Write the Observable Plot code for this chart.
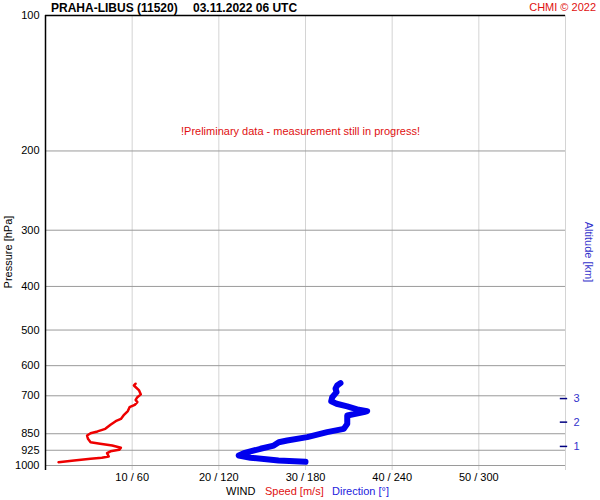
<!DOCTYPE html>
<html><head><meta charset="utf-8">
<script src="https://cdn.jsdelivr.net/npm/d3@7"></script>
<script src="https://cdn.jsdelivr.net/npm/@observablehq/plot@0.6"></script>
<style>body{margin:0;background:#fff}</style>
</head><body><div id="chart"></div>
<script>
const pressureTicks = [100,200,300,400,500,600,700,850,925,1000];
const speedTicks = [10,20,30,40,50];
const speedPressure = [658,664,681,695,705,715,723,733,742,757,774,788,797,812,829,840,848,858,872,888,895,903,913,923,930,939,955,961,966,975,983];
const speedValues = [10.4,10.2,10.8,11.0,10.6,10.4,10.6,10.3,9.7,9.5,9.0,8.7,8.1,7.5,6.9,6.0,5.2,4.8,4.9,5.2,6.3,7.7,8.7,8.5,7.5,7.1,7.3,6.5,5.2,3.3,1.5];
const dirPressure = [656,664,675,687,705,720,729,739,752,757,761,774,808,829,843,865,880,888,903,918,939,950,961,975,981];
const dirValues = [204.2,201.9,200.8,201.5,198.5,197.8,201.5,208.9,216.9,222.7,220.4,208.9,208.9,206.5,195,181.2,167.3,161.5,158,148.8,137.3,133.8,141.9,161.3,180];
const altKm = [1,2,3];
const altPressure = [907,801,710];
const prelimText = "!Preliminary data - measurement still in progress!";

const speedData = speedValues.map((v,i)=>({v, p: speedPressure[i]}));
const dirData = dirValues.map((d,i)=>({s: d/6, p: dirPressure[i]}));
const altData = altKm.map((k,i)=>({k, p: altPressure[i]}));

const chart = Plot.plot({
  width: 600, height: 500,
  marginLeft: 45, marginRight: 35, marginTop: 15, marginBottom: 35,
  style: {fontFamily: "'Liberation Sans', Arial, sans-serif", fontSize: "11px", background: "#fff", color: "#000"},
  x: {domain: [0,60], axis: null},
  y: {type: "log", domain: [100,1000], reverse: true, axis: null},
  marks: [
    Plot.ruleX(speedTicks.concat([60]), {stroke: "#d4d4d4", strokeOpacity: 1, insetBottom: -5}),
    Plot.ruleY(pressureTicks.slice(1), {stroke: "#9a9a9a", strokeOpacity: 1}),
    Plot.ruleY([100], {stroke: "#000", strokeWidth: 1.5}),
    Plot.ruleX([0], {stroke: "#000", strokeWidth: 1.5, insetBottom: -5}),
    Plot.axisY({ticks: pressureTicks, tickFormat: d => String(d), tickSize: 0, tickPadding: 6, fontSize: 11, label: null}),
    Plot.axisX({ticks: speedTicks, tickFormat: d => `${d} / ${d*6}`, tickSize: 0, tickPadding: 8, fontSize: 11, label: null}),
    Plot.ruleY(altData, {y: "p", x1: 59.4, x2: 60.25, stroke: "#000080", strokeWidth: 1.5}),
    Plot.text(altData, {y: "p", x: 60, text: d => String(d.k), dx: 8, textAnchor: "start", fill: "#3333cc", fontSize: 11}),
    Plot.text([prelimText], {frameAnchor: "top", dy: 112, dx: -5, fill: "#e01010", fontSize: 11}),
    Plot.line(speedData, {x: "v", y: "p", stroke: "#ee0000", strokeWidth: 2.5, strokeLinejoin: "round", strokeLinecap: "round"}),
    Plot.line(dirData, {x: "s", y: "p", stroke: "#0000ee", strokeWidth: 6, strokeLinejoin: "round", strokeLinecap: "round"})
  ]
});
document.getElementById("chart").append(chart);

const svg = d3.select(chart);
function addText(x, y, str, opts) {
  const t = svg.append("text").attr("x", x).attr("y", y).attr("text-anchor", opts.anchor || "start")
    .attr("font-size", opts.size || 11).attr("fill", opts.fill || "#000").text(str);
  if (opts.bold) t.attr("font-weight", "bold");
  if (opts.transform) t.attr("transform", opts.transform).attr("x", 0).attr("y", 0);
  return t;
}
addText(51, 11.5, "PRAHA-LIBUS (11520)", {bold: true, size: 12});
addText(193, 11.5, "03.11.2022 06 UTC", {bold: true, size: 12});
addText(596, 11, "CHMI © 2022", {anchor: "end", fill: "#e01010"});
addText(0, 0, "Pressure [hPa]", {anchor: "middle", transform: "translate(12,252) rotate(-90)"});
addText(0, 0, "Altitude [km]", {anchor: "middle", fill: "#3333cc", transform: "translate(585,252) rotate(90)"});
addText(226, 495, "WIND", {});
addText(265, 495, "Speed [m/s]", {fill: "#e01010"});
addText(332, 495, "Direction [°]", {fill: "#2222dd"});
</script>
</body></html>
